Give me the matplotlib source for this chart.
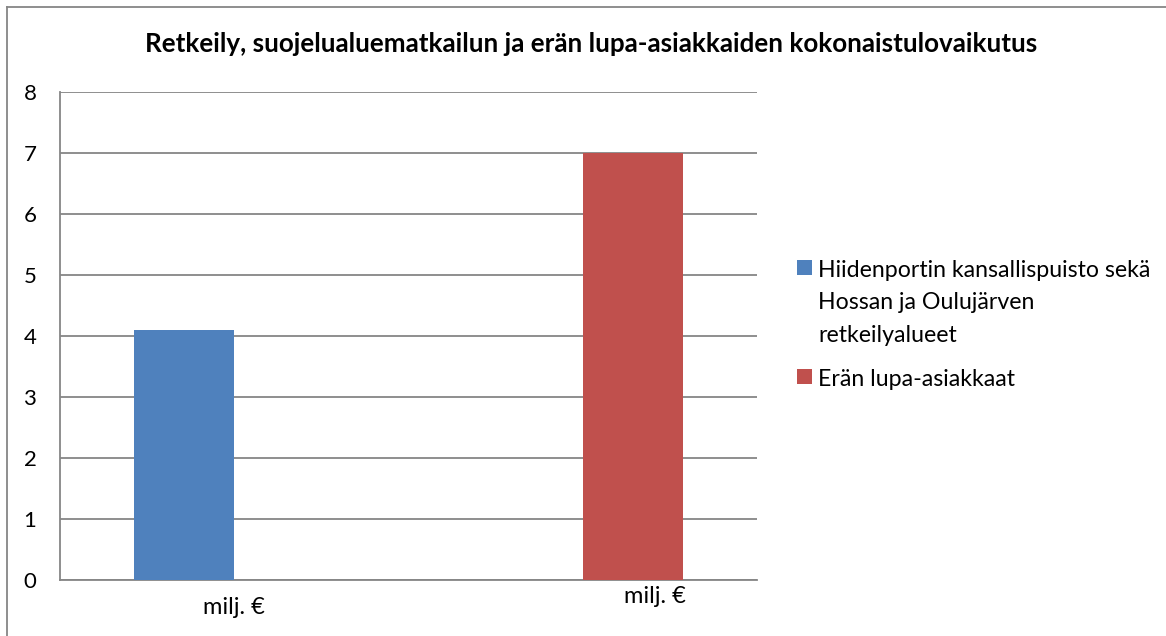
import matplotlib
matplotlib.use("Agg")
import matplotlib.pyplot as plt
import matplotlib.transforms as mtransforms
from matplotlib.lines import Line2D

plt.rcParams['font.family'] = ['Lato', 'DejaVu Sans']

otsikko = "Retkeily, suojelualuematkailun ja erän lupa-asiakkaiden kokonaistulovaikutus"
kategoriat = ["milj. €", "milj. €"]
sarja_nimet = ["Hiidenportin kansallispuisto sekä\nHossan ja Oulujärven\nretkeilyalueet",
               "Erän lupa-asiakkaat"]
retkeily = [4.1, 0]
era = [0, 7.0]
y_ticks = [0, 1, 2, 3, 4, 5, 6, 7, 8]

sininen = '#4F81BD'
punainen = '#C0504D'
harmaa = '#868686'

W, H = 1166, 636
fig = plt.figure(figsize=(W / 100, H / 100), dpi=100)
ax = fig.add_axes([60 / W, 1 - 580 / H, 697 / W, 488 / H])

x = [0, 1]
leveys = 0.287
b1 = ax.bar([i - leveys / 2 for i in x], retkeily, leveys, color=sininen, label=sarja_nimet[0], zorder=3)
b2 = ax.bar([i + leveys / 2 for i in x], era, leveys, color=punainen, label=sarja_nimet[1], zorder=3)

ax.set_xlim(-0.5, 1.5)
ax.set_ylim(0, 8)
ax.set_yticks(y_ticks)
ax.set_yticklabels([str(t) for t in y_ticks], fontsize=16)
ax.set_xticks(x)
ax.set_xticklabels(kategoriat, fontsize=17)
ax.tick_params(axis='y', length=0, pad=17)
ax.tick_params(axis='x', length=0, pad=12)
ax.grid(axis='y', color=harmaa, linewidth=1.3, zorder=0)
ax.set_axisbelow(True)
for s in ['top', 'right']:
    ax.spines[s].set_visible(False)
for s in ['left', 'bottom']:
    ax.spines[s].set_color(harmaa)
    ax.spines[s].set_linewidth(1.3)

# toinen kategorian nimi on kuvassa siirtynyt oikealle ja ylemmäs
lbl = ax.get_xticklabels()[1]
lbl.set_transform(lbl.get_transform() + mtransforms.ScaledTranslation(72 / 100, 11 / 100, fig.dpi_scale_trans))

fig.text(591 / W, 1 - 52 / H, otsikko, ha='center', va='baseline', fontsize=18.7, fontweight='bold')

leg = fig.legend(handles=[b1, b2], loc='upper left', bbox_to_anchor=(797 / W, 1 - 260 / H),
                 frameon=False, fontsize=16.7, handlelength=0.65, handleheight=0.65,
                 handletextpad=0.25, labelspacing=0.98, borderpad=0, borderaxespad=0)
for t in leg.get_texts():
    t.set_linespacing(1.67)
# merkki rivin ylälaitaan, ei keskelle
for sarake in leg._legend_handle_box.get_children():
    for rivi in sarake.get_children():
        rivi.align = 'top'

# kehys
fig.add_artist(Line2D([7 / W, 7 / W], [0, 1 - 7 / H], color=harmaa, linewidth=1.3))
fig.add_artist(Line2D([7 / W, 1], [1 - 7 / H, 1 - 7 / H], color=harmaa, linewidth=1.3))

fig.savefig('out.png', dpi=100)
